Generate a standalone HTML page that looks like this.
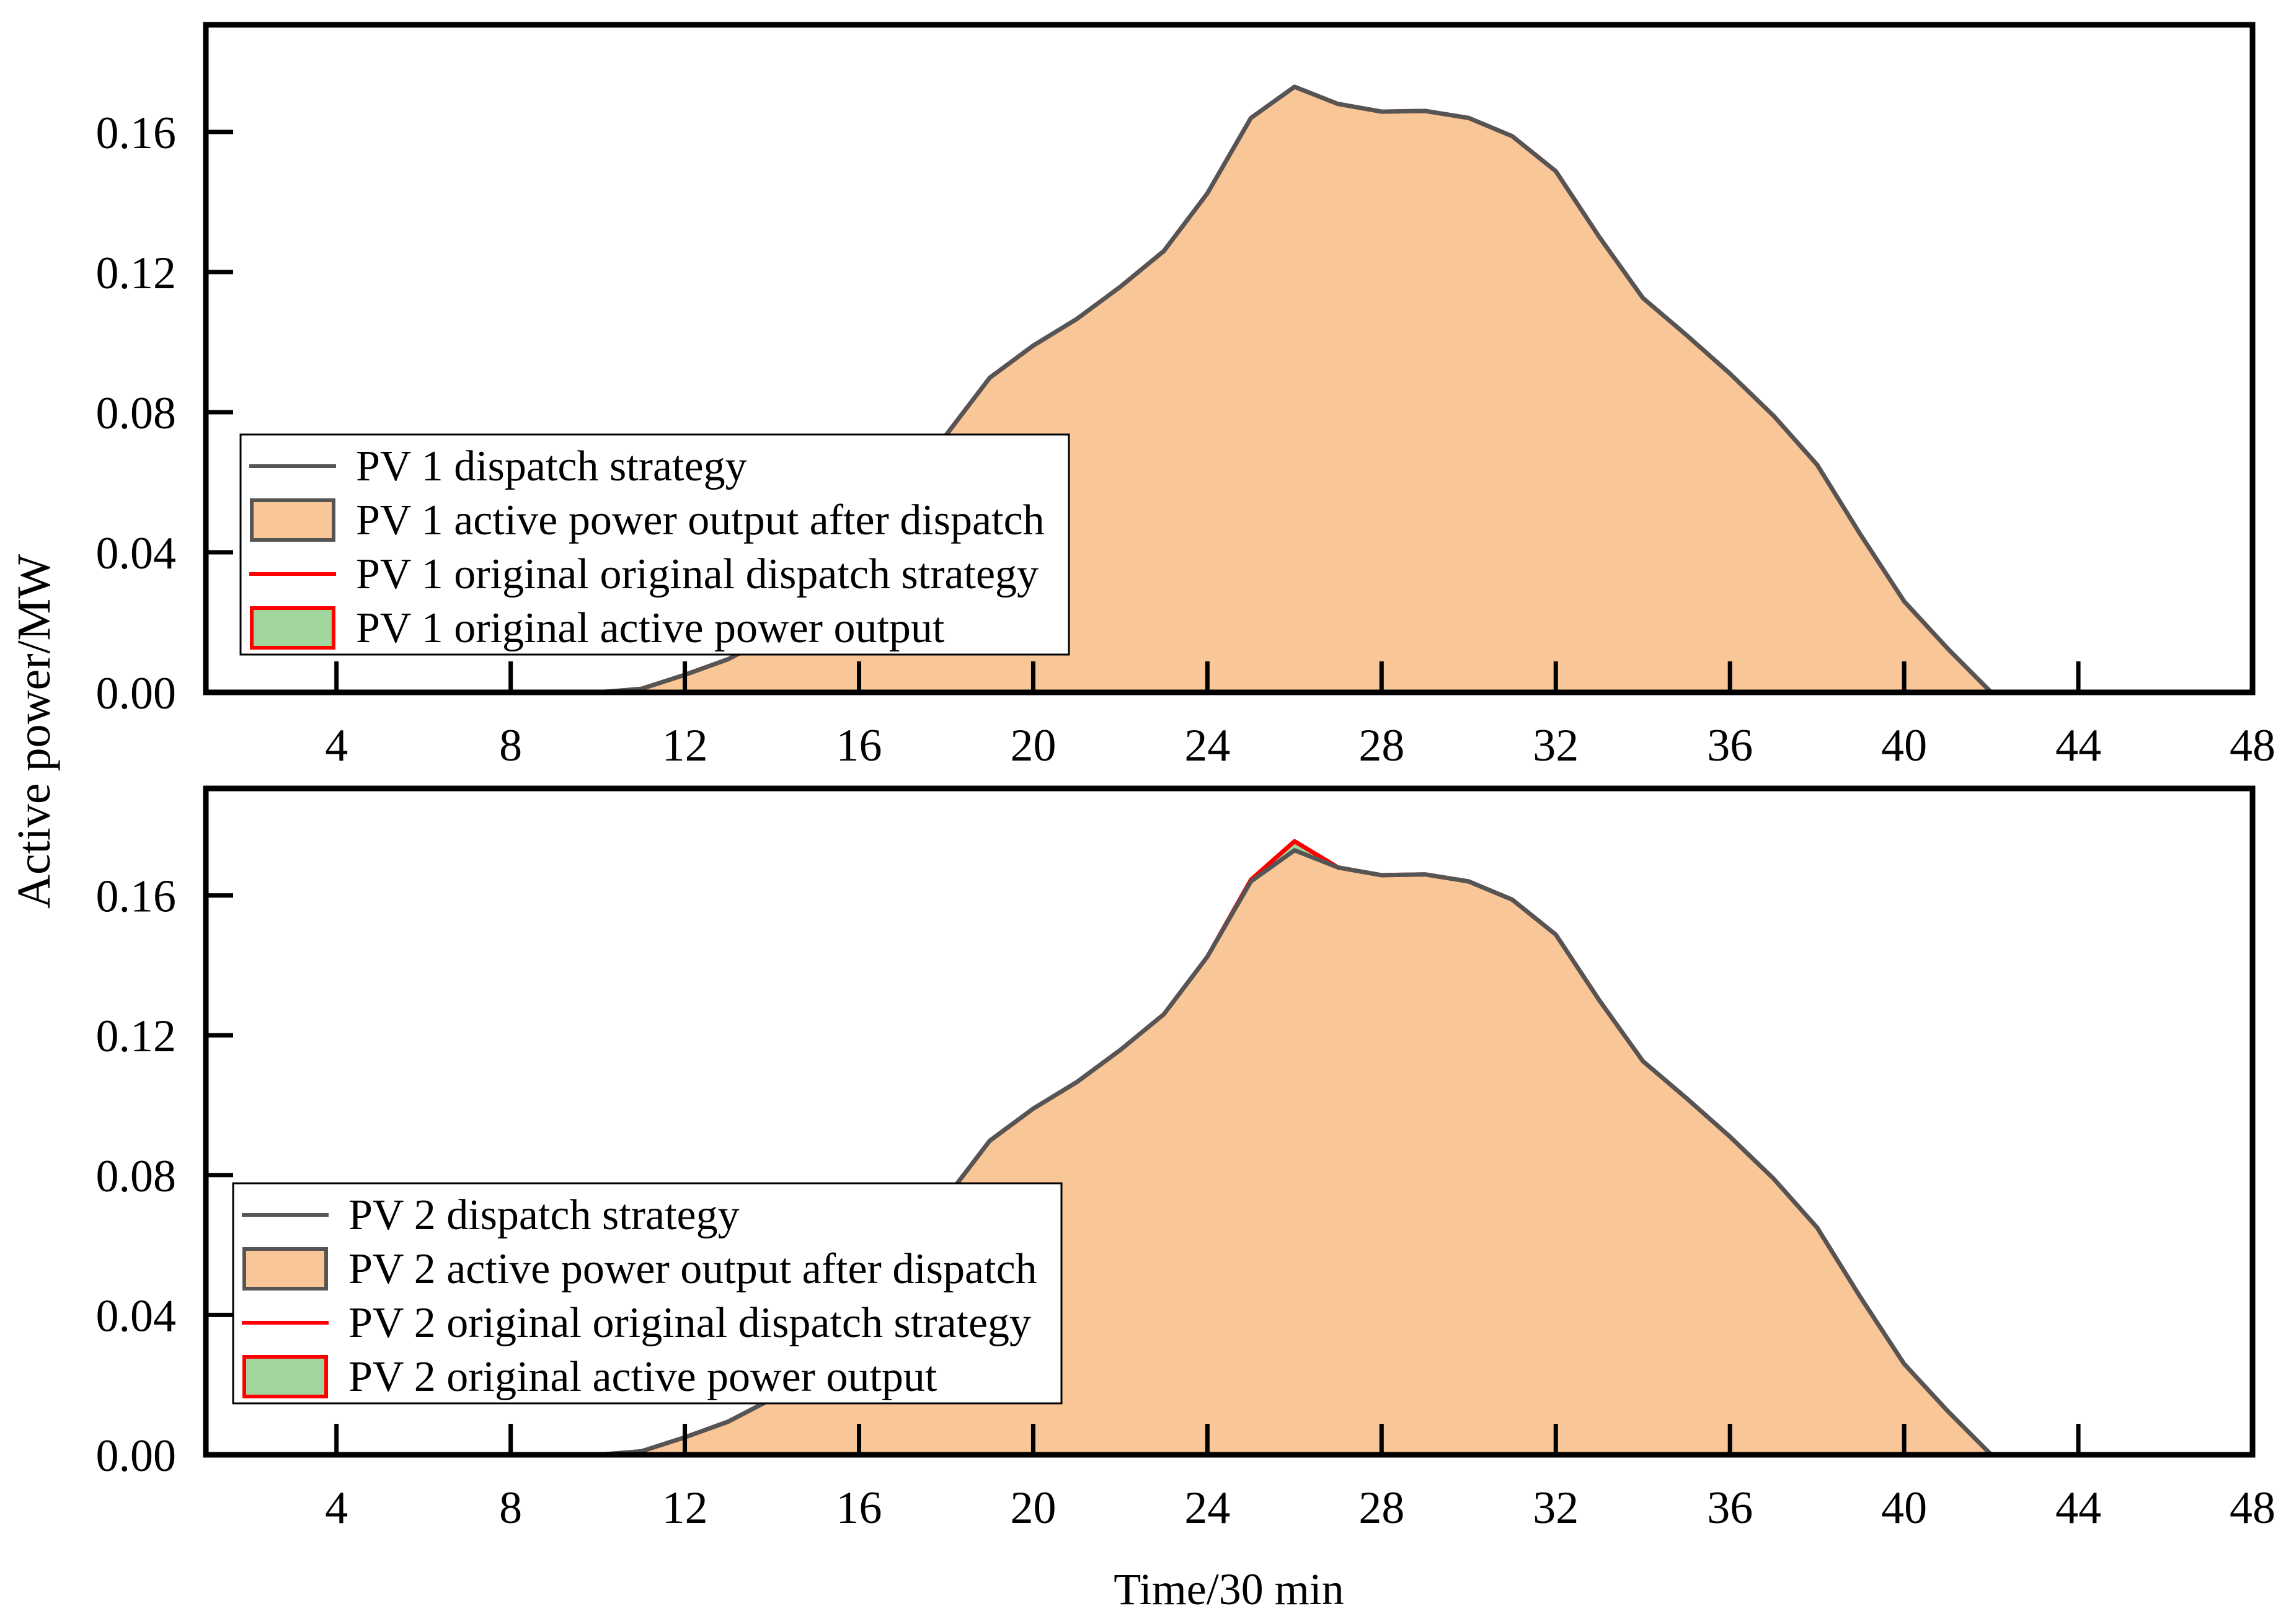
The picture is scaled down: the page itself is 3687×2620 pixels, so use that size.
<!DOCTYPE html>
<html><head><meta charset="utf-8"><style>
html,body{margin:0;padding:0;background:#fff}
svg text{font-family:"Liberation Serif",serif;fill:#000}
</style></head><body>
<svg id="chart" width="3687" height="2615" xmlns="http://www.w3.org/2000/svg"></svg>
<script>
const timeSteps = [1,2,3,4,5,6,7,8,9,10,11,12,13,14,15,16,17,18,19,20,21,22,23,24,25,26,27,28,29,30,31,32,33,34,35,36,37,38,39,40,41,42,43,44,45,46,47,48];
const pv1Dispatch = [0,0,0,0,0,0,0,0,0,0,0.001,0.005,0.0095,0.016,0.027,0.040,0.056,0.0735,0.0898,0.099,0.1066,0.1158,0.126,0.1425,0.164,0.1729,0.168,0.1658,0.166,0.164,0.1588,0.1488,0.130,0.1126,0.102,0.091,0.079,0.065,0.045,0.026,0.0125,0,0,0,0,0,0,0];
const pv1Original = [0,0,0,0,0,0,0,0,0,0,0.001,0.005,0.0095,0.016,0.027,0.040,0.056,0.0735,0.0898,0.099,0.1066,0.1158,0.126,0.1425,0.164,0.1729,0.168,0.1658,0.166,0.164,0.1588,0.1488,0.130,0.1126,0.102,0.091,0.079,0.065,0.045,0.026,0.0125,0,0,0,0,0,0,0];
const pv2Dispatch = [0,0,0,0,0,0,0,0,0,0,0.001,0.005,0.0095,0.016,0.027,0.040,0.056,0.0735,0.0898,0.099,0.1066,0.1158,0.126,0.1425,0.164,0.1729,0.168,0.1658,0.166,0.164,0.1588,0.1488,0.130,0.1126,0.102,0.091,0.079,0.065,0.045,0.026,0.0125,0,0,0,0,0,0,0];
const pv2Original = [0,0,0,0,0,0,0,0,0,0,0.001,0.005,0.0095,0.016,0.027,0.040,0.056,0.0735,0.0898,0.099,0.1066,0.1158,0.126,0.1425,0.1645,0.1755,0.168,0.1658,0.166,0.164,0.1588,0.1488,0.130,0.1126,0.102,0.091,0.079,0.065,0.045,0.026,0.0125,0,0,0,0,0,0,0];
const xTicks = [4,8,12,16,20,24,28,32,36,40,44,48];
const yTicks = [0,0.04,0.08,0.12,0.16];
const yTickLabels = ["0.00","0.04","0.08","0.12","0.16"];

const NS = "http://www.w3.org/2000/svg";
const svg = document.getElementById('chart');
function mk(tag, attrs, parent){
  const e = document.createElementNS(NS, tag);
  for (const k in attrs) e.setAttribute(k, attrs[k]);
  (parent||svg).appendChild(e);
  return e;
}
const X0 = 332, X1 = 3633, XMIN = 1, XMAX = 48, YMAX = 0.1906;
function xs(v){ return X0 + (v - XMIN) / (XMAX - XMIN) * (X1 - X0); }

function panel(top, bottom, dispatch, original, num, leg){
  const ys = v => bottom - v / YMAX * (bottom - top);
  const g = mk('g', {});
  
  
  const pts = arr => arr.map((v,i)=>xs(timeSteps[i]).toFixed(1)+','+ys(v).toFixed(1)).join(' ');
  const area = arr => xs(timeSteps[0])+','+bottom+' '+pts(arr)+' '+xs(timeSteps[timeSteps.length-1])+','+bottom;
  const ga = mk('polygon', {points: area(original), fill:'#a0d59e', stroke:'none'}, g);
  
  
  const oa = mk('polygon', {points: area(dispatch), fill:'#f9c797', stroke:'none'}, g);
  
  
  const rl = mk('polyline', {points: pts(original), fill:'none', stroke:'#ff0000', 'stroke-width':7, 'stroke-linejoin':'round'}, g);
  
  
  const gl = mk('polyline', {points: pts(dispatch), fill:'none', stroke:'#555555', 'stroke-width':7, 'stroke-linejoin':'round'}, g);
  
  
  xTicks.forEach(t=>{
    const x = xs(t);
    const tk = mk('line', {x1:x, x2:x, y1:bottom, y2:bottom-50, stroke:'#000', 'stroke-width':7}, g);
    
    
    const tl = mk('text', {x:x, y:bottom+110, 'font-size':74, 'text-anchor':'middle'}, g);
    tl.textContent = t;
    
    
  });
  yTicks.forEach((t,i)=>{
    const y = ys(t);
    const tk = mk('line', {x1:X0, x2:X0+44, y1:y, y2:y, stroke:'#000', 'stroke-width':7}, g);
    
    
    const tl = mk('text', {x:284, y:y+26, 'font-size':74, 'text-anchor':'end'}, g);
    tl.textContent = yTickLabels[i];
    
    
  });
  const fr = mk('rect', {x:X0, y:top, width:X1-X0, height:bottom-top, fill:'none', stroke:'#000', 'stroke-width':9}, g);
  
  
  const lg = mk('g', {}, g);
  
  
  mk('rect', {x:leg.x, y:leg.y, width:leg.w, height:leg.h, fill:'#fff', stroke:'#000', 'stroke-width':3}, lg);
  const labels = ['PV '+num+' dispatch strategy','PV '+num+' active power output after dispatch','PV '+num+' original original dispatch strategy','PV '+num+' original active power output'];
  labels.forEach((lab,i)=>{
    const cy = leg.y + 51 + i*87;
    const hx = leg.x + 14;
    if(i===0) mk('line',{x1:hx,x2:hx+140,y1:cy,y2:cy,stroke:'#555',"stroke-width":6},lg);
    if(i===1) mk('rect',{x:hx+4,y:cy-32,width:132,height:64,fill:'#f9c797',stroke:'#555','stroke-width':6},lg);
    if(i===2) mk('line',{x1:hx,x2:hx+140,y1:cy,y2:cy,stroke:'#ff0000',"stroke-width":6},lg);
    if(i===3) mk('rect',{x:hx+4,y:cy-32,width:132,height:64,fill:'#a0d59e',stroke:'#ff0000','stroke-width':6},lg);
    const t = mk('text',{x:leg.x+186,y:cy+23,'font-size':70},lg);
    t.textContent = lab;
    
    
  });
}
panel(40, 1117, pv1Dispatch, pv1Original, 1, {x:388, y:701, w:1336, h:355});
panel(1272, 2347, pv2Dispatch, pv2Original, 2, {x:376, y:1909, w:1336, h:355});

const yl = mk('text', {x:0, y:0, 'font-size':76, 'text-anchor':'middle', transform:'translate(80,1180) rotate(-90)'});
yl.textContent = 'Active power/MW';


const xl = mk('text', {x:1982, y:2526+62, 'font-size':72, 'text-anchor':'middle'});
xl.textContent = 'Time/30 min';


</script>
</body></html>
